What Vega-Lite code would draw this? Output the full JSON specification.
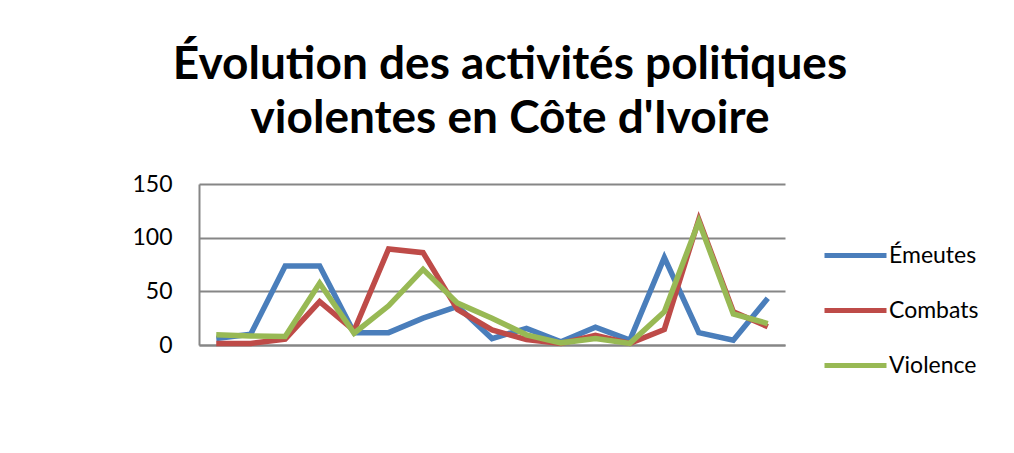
{
  "$schema": "https://vega.github.io/schema/vega-lite/v6.json",
  "autosize": {"type": "none"},
  "width": 586,
  "height": 161,
  "padding": {"left": 199, "top": 184, "right": 229, "bottom": 108},
  "background": "white",
  "config": {"view": {"stroke": null}, "font": "Lato"},
  "title": {
    "text": ["Évolution des activités politiques", "violentes en Côte d'Ivoire"],
    "font": "Lato",
    "fontSize": 46,
    "fontWeight": "bold",
    "color": "black",
    "lineHeight": 54,
    "anchor": "middle",
    "dx": 18,
    "offset": 30
  },
  "data": {
    "values": [
      {"t": 1, "serie": "Émeutes", "v": 6},
      {"t": 2, "serie": "Émeutes", "v": 10},
      {"t": 3, "serie": "Émeutes", "v": 73.5},
      {"t": 4, "serie": "Émeutes", "v": 73.5},
      {"t": 5, "serie": "Émeutes", "v": 11.5},
      {"t": 6, "serie": "Émeutes", "v": 11.5},
      {"t": 7, "serie": "Émeutes", "v": 25},
      {"t": 8, "serie": "Émeutes", "v": 36},
      {"t": 9, "serie": "Émeutes", "v": 6},
      {"t": 10, "serie": "Émeutes", "v": 15.5},
      {"t": 11, "serie": "Émeutes", "v": 3},
      {"t": 12, "serie": "Émeutes", "v": 16.5},
      {"t": 13, "serie": "Émeutes", "v": 4.5},
      {"t": 14, "serie": "Émeutes", "v": 81.5},
      {"t": 15, "serie": "Émeutes", "v": 11.5},
      {"t": 16, "serie": "Émeutes", "v": 4.5},
      {"t": 17, "serie": "Émeutes", "v": 43.5},
      {"t": 1, "serie": "Combats", "v": 1.5},
      {"t": 2, "serie": "Combats", "v": 1.5},
      {"t": 3, "serie": "Combats", "v": 5.5},
      {"t": 4, "serie": "Combats", "v": 40.5},
      {"t": 5, "serie": "Combats", "v": 13.5},
      {"t": 6, "serie": "Combats", "v": 89.5},
      {"t": 7, "serie": "Combats", "v": 86},
      {"t": 8, "serie": "Combats", "v": 33},
      {"t": 9, "serie": "Combats", "v": 14},
      {"t": 10, "serie": "Combats", "v": 5},
      {"t": 11, "serie": "Combats", "v": 1.5},
      {"t": 12, "serie": "Combats", "v": 9},
      {"t": 13, "serie": "Combats", "v": 1.5},
      {"t": 14, "serie": "Combats", "v": 14.5},
      {"t": 15, "serie": "Combats", "v": 117},
      {"t": 16, "serie": "Combats", "v": 31},
      {"t": 17, "serie": "Combats", "v": 17},
      {"t": 1, "serie": "Violence", "v": 9.5},
      {"t": 2, "serie": "Violence", "v": 8.5},
      {"t": 3, "serie": "Violence", "v": 8},
      {"t": 4, "serie": "Violence", "v": 57.5},
      {"t": 5, "serie": "Violence", "v": 11},
      {"t": 6, "serie": "Violence", "v": 36.5},
      {"t": 7, "serie": "Violence", "v": 70.5},
      {"t": 8, "serie": "Violence", "v": 39},
      {"t": 9, "serie": "Violence", "v": 25},
      {"t": 10, "serie": "Violence", "v": 9.5},
      {"t": 11, "serie": "Violence", "v": 2},
      {"t": 12, "serie": "Violence", "v": 6},
      {"t": 13, "serie": "Violence", "v": 1.5},
      {"t": 14, "serie": "Violence", "v": 31},
      {"t": 15, "serie": "Violence", "v": 115},
      {"t": 16, "serie": "Violence", "v": 29},
      {"t": 17, "serie": "Violence", "v": 20}
    ]
  },
  "mark": {"type": "line", "strokeWidth": 5.5, "strokeJoin": "miter"},
  "encoding": {
    "x": {
      "field": "t",
      "type": "ordinal",
      "scale": {"type": "point", "padding": 0.5},
      "axis": {"labels": false, "ticks": false, "title": null, "domain": true, "domainColor": "#868686", "domainWidth": 2, "grid": false}
    },
    "y": {
      "field": "v",
      "type": "quantitative",
      "scale": {"domain": [0, 150], "nice": false},
      "axis": {
        "values": [0, 50, 100, 150],
        "title": null,
        "ticks": false,
        "domain": true,
        "domainColor": "#868686",
        "domainWidth": 2,
        "gridColor": "#868686",
        "gridWidth": 2,
        "labelFont": "Lato",
        "labelFontSize": 23,
        "labelColor": "black",
        "labelPadding": 27
      }
    },
    "color": {
      "field": "serie",
      "type": "nominal",
      "sort": ["Émeutes", "Combats", "Violence"],
      "scale": {"domain": ["Émeutes", "Combats", "Violence"], "range": ["#4A7EBB", "#BE4B48", "#98B954"]},
      "legend": {
        "title": null,
        "orient": "none",
        "legendX": 623,
        "legendY": 38,
        "symbolType": "stroke",
        "symbolSize": 3844,
        "symbolStrokeWidth": 5,
        "labelFont": "Lato",
        "labelFontSize": 23,
        "labelColor": "black",
        "labelOffset": 0,
        "rowPadding": 9
      }
    }
  }
}
